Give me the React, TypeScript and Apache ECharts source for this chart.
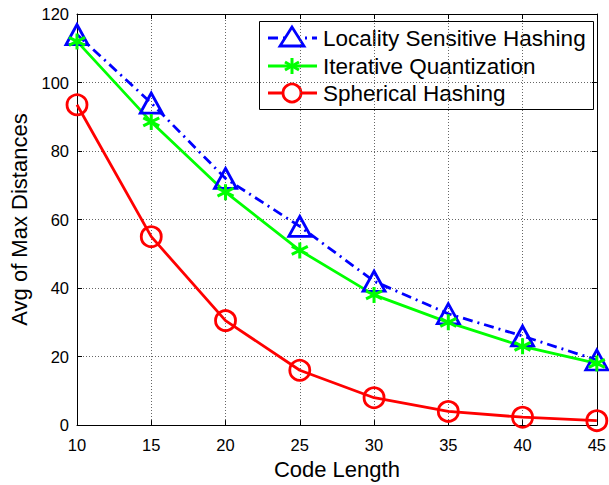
import React, { useEffect, useRef } from "react";
import * as echarts from "echarts";

const codeLengths = [10, 15, 20, 25, 30, 35, 40, 45];
const lshValues = [114, 94, 72, 58, 42, 32.5, 26, 19];
const itqValues = [112, 88.5, 68, 51, 38, 30, 23, 18];
const shValues = [93.5, 55, 30.5, 16, 8, 4, 2.3, 1.3];
const seriesNames = ["Locality Sensitive Hashing", "Iterative Quantization", "Spherical Hashing"];
const xTitle = "Code Length";
const yTitle = "Avg of Max Distances";

const FONT = "'Liberation Sans', Arial, Helvetica, sans-serif";
const asterisk = "path://M0,-10 L0,10 M-8.66,-5 L8.66,5 M-8.66,5 L8.66,-5";

export default function App() {
  const ref = useRef<HTMLDivElement>(null);
  useEffect(() => {
    if (!ref.current) return;
    const chart = echarts.init(ref.current, undefined, { renderer: "svg" });
    const pair = (v: number[]) => codeLengths.map((x, i) => [x, v[i]]);
    const gridLine = { show: true, lineStyle: { color: "#666", width: 1, type: [1, 2] as any } };
    const axisLine = { show: true, onZero: false, lineStyle: { color: "#000", width: 1 } };
    const tick = { show: true, inside: true, length: 5, lineStyle: { color: "#000" } };
    const label = { color: "#000", fontSize: 16.5, fontFamily: FONT };
    const legendY = [38, 66, 93];
    const lx0 = 268, lx1 = 317, mx = 292;
    const LW = 2.8;
    chart.setOption({
      animation: false,
      backgroundColor: "#fff",
      grid: { left: 72, right: 8, top: 14, bottom: 55, containLabel: false },
      xAxis: [
        {
          type: "value", min: 10, max: 45, interval: 5, position: "bottom",
          axisLine, axisTick: tick, splitLine: gridLine,
          axisLabel: { ...label, margin: 11 },
          name: xTitle, nameLocation: "middle", nameGap: 32,
          nameTextStyle: { color: "#000", fontSize: 22, fontFamily: FONT },
        },
        {
          type: "value", min: 10, max: 45, interval: 5, position: "top",
          axisLine, axisTick: tick, splitLine: { show: false }, axisLabel: { show: false },
        },
      ],
      yAxis: [
        {
          type: "value", min: 0, max: 120, interval: 20, position: "left",
          axisLine, axisTick: tick, splitLine: gridLine,
          axisLabel: { ...label, margin: 8 },
          name: yTitle, nameLocation: "middle", nameGap: 47,
          nameTextStyle: { color: "#000", fontSize: 22, fontFamily: FONT },
        },
        {
          type: "value", min: 0, max: 120, interval: 20, position: "right",
          axisLine, axisTick: tick, splitLine: { show: false }, axisLabel: { show: false },
        },
      ],
      series: [
        {
          name: seriesNames[0], type: "line", data: pair(lshValues), clip: false,
          symbol: "triangle", symbolSize: [22, 20],
          lineStyle: { color: "#0000ff", width: LW, type: [10, 5, 2, 5] as any },
          itemStyle: { color: "rgba(0,0,0,0)", borderColor: "#0000ff", borderWidth: LW },
        },
        {
          name: seriesNames[1], type: "line", data: pair(itqValues), clip: false,
          symbol: asterisk, symbolSize: 16,
          lineStyle: { color: "#00ff00", width: LW },
          itemStyle: { color: "rgba(0,0,0,0)", borderColor: "#00ff00", borderWidth: 3 },
        },
        {
          name: seriesNames[2], type: "line", data: pair(shValues), clip: false,
          symbol: "circle", symbolSize: 20,
          lineStyle: { color: "#ff0000", width: LW },
          itemStyle: { color: "rgba(0,0,0,0)", borderColor: "#ff0000", borderWidth: LW },
        },
      ],
      graphic: [
        {
          type: "group", z: 100,
          children: [
            { type: "rect", shape: { x: 259.5, y: 21.5, width: 334, height: 88 }, style: { fill: "#fff", stroke: "#000", lineWidth: 1 } },
            // LSH
            { type: "line", shape: { x1: lx0, y1: legendY[0], x2: lx1, y2: legendY[0] }, style: { stroke: "#0000ff", lineWidth: LW, lineDash: [10, 5, 2, 5] } },
            { type: "polygon", shape: { points: [[mx, legendY[0] - 11], [mx - 12, legendY[0] + 8], [mx + 12, legendY[0] + 8]] }, style: { fill: "#fff", stroke: "#0000ff", lineWidth: LW } },
            { type: "text", x: 323, y: legendY[0], style: { text: seriesNames[0], fill: "#000", fontSize: 22.5, fontFamily: FONT, verticalAlign: "middle" } },
            // ITQ
            { type: "line", shape: { x1: lx0, y1: legendY[1], x2: lx1, y2: legendY[1] }, style: { stroke: "#00ff00", lineWidth: LW } },
            { type: "line", shape: { x1: mx, y1: legendY[1] - 8, x2: mx, y2: legendY[1] + 8 }, style: { stroke: "#00ff00", lineWidth: 3 } },
            { type: "line", shape: { x1: mx - 7, y1: legendY[1] - 4, x2: mx + 7, y2: legendY[1] + 4 }, style: { stroke: "#00ff00", lineWidth: 3 } },
            { type: "line", shape: { x1: mx - 7, y1: legendY[1] + 4, x2: mx + 7, y2: legendY[1] - 4 }, style: { stroke: "#00ff00", lineWidth: 3 } },
            { type: "text", x: 323, y: legendY[1], style: { text: seriesNames[1], fill: "#000", fontSize: 22.5, fontFamily: FONT, verticalAlign: "middle" } },
            // SH
            { type: "line", shape: { x1: lx0, y1: legendY[2], x2: lx1, y2: legendY[2] }, style: { stroke: "#ff0000", lineWidth: LW } },
            { type: "circle", shape: { cx: mx, cy: legendY[2], r: 9 }, style: { fill: "#fff", stroke: "#ff0000", lineWidth: LW } },
            { type: "text", x: 323, y: legendY[2], style: { text: seriesNames[2], fill: "#000", fontSize: 22.5, fontFamily: FONT, verticalAlign: "middle" } },
          ],
        },
      ],
    });
    return () => chart.dispose();
  }, []);
  return <div ref={ref} style={{ position: "fixed", left: 0, top: 0, width: 609, height: 485 }} />;
}
